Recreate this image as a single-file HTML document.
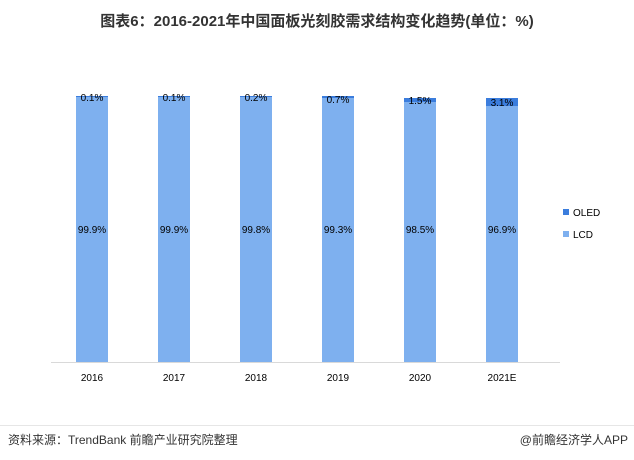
<!DOCTYPE html>
<html><head><meta charset="utf-8"><style>
body{margin:0;width:634px;height:460px;background:#fff;font-family:"Liberation Sans","Noto Sans CJK SC",sans-serif;position:relative;overflow:hidden}
.t{position:absolute;white-space:nowrap}
</style></head><body>
<div class="t" style="left:0;width:634px;top:10px;text-align:center;font-size:15px;font-weight:bold;color:#333">图表6：2016-2021年中国面板光刻胶需求结构变化趋势(单位：%)</div>
<svg width="634" height="460" style="position:absolute;left:0;top:0" font-family="Liberation Sans, Noto Sans CJK SC, sans-serif">
<line x1="51" y1="362.5" x2="560" y2="362.5" stroke="#d9d9d9"/>
<g font-size="10" fill="#000" text-anchor="middle">
<rect x="76" y="96" width="32" height="266" fill="#7eb0ef"/><rect x="76" y="96" width="32" height="1" fill="#3b7ddd"/>
<text x="92" y="101">0.1%</text><text x="92" y="233">99.9%</text><text x="92" y="381">2016</text>
<rect x="158" y="96" width="32" height="266" fill="#7eb0ef"/><rect x="158" y="96" width="32" height="1" fill="#3b7ddd"/>
<text x="174" y="101">0.1%</text><text x="174" y="233">99.9%</text><text x="174" y="381">2017</text>
<rect x="240" y="96" width="32" height="266" fill="#7eb0ef"/><rect x="240" y="96" width="32" height="1" fill="#3b7ddd"/>
<text x="256" y="101">0.2%</text><text x="256" y="233">99.8%</text><text x="256" y="381">2018</text>
<rect x="322" y="96" width="32" height="266" fill="#7eb0ef"/><rect x="322" y="96" width="32" height="2" fill="#3b7ddd"/>
<text x="338" y="103">0.7%</text><text x="338" y="233">99.3%</text><text x="338" y="381">2019</text>
<rect x="404" y="98" width="32" height="264" fill="#7eb0ef"/><rect x="404" y="98" width="32" height="4" fill="#3b7ddd"/>
<text x="420" y="104">1.5%</text><text x="420" y="233">98.5%</text><text x="420" y="381">2020</text>
<rect x="486" y="98" width="32" height="264" fill="#7eb0ef"/><rect x="486" y="98" width="32" height="8" fill="#3b7ddd"/>
<text x="502" y="106">3.1%</text><text x="502" y="233">96.9%</text><text x="502" y="381">2021E</text>
</g>
<rect x="563" y="209" width="6" height="6" fill="#3b7ddd"/><text x="573" y="216" font-size="10">OLED</text>
<rect x="563" y="231" width="6" height="6" fill="#7eb0ef"/><text x="573" y="238" font-size="10">LCD</text>
<line x1="0" y1="425.5" x2="634" y2="425.5" stroke="#e6e6e6"/>
</svg>
<div class="t" style="left:8px;top:431px;font-size:12px;color:#333">资料来源：TrendBank 前瞻产业研究院整理</div>
<div class="t" style="right:6px;top:431px;font-size:12px;color:#333">@前瞻经济学人APP</div>
</body></html>
